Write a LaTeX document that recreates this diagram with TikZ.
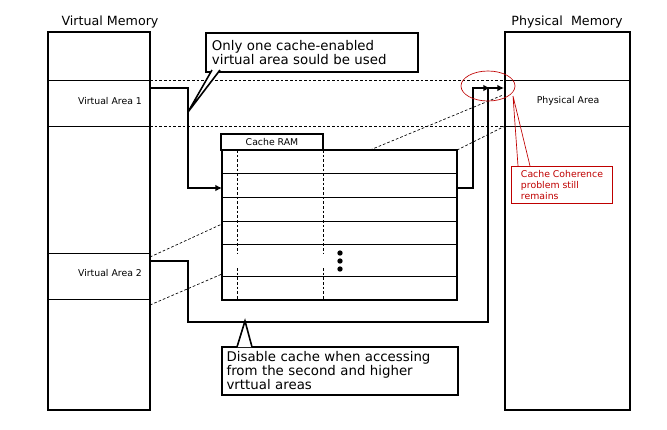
\documentclass[tikz,border=0pt]{standalone}
\usepackage{fontspec}
\setmainfont{DejaVu Sans}
\usetikzlibrary{positioning}
\usetikzlibrary{arrows.meta}
\tikzset{
  mem/.style={draw,line width=1.2pt},
  thin/.style={line width=0.5pt},
  dashline/.style={thin,dash pattern=on 2pt off 1.5pt},
  conn/.style={line width=1.4pt},
  arr/.style={conn,-{Latex[length=5pt,width=5pt]}},
  callout/.style={draw,line width=1.4pt,fill=white,align=left,inner sep=2pt,font=\fontsize{10}{10.5}\selectfont},
  lbl/.style={font=\fontsize{7}{8}\selectfont},
  ttl/.style={font=\fontsize{9.5}{10}\selectfont},
}
\begin{document}
\begin{tikzpicture}[x=0.75pt,y=-0.75pt]
    \useasboundingbox (0,0) rectangle (667,429);
    %% memories
    \node[ttl] (vmt) at (110,22) {Virtual Memory};
    \node[ttl] (pmt) at (567,22) {Physical\ \ Memory};
    \draw[mem] (48,32) coordinate (vm) rectangle (150,410);
    \draw[mem] (505,32) coordinate (pm) rectangle (630,410);
    \foreach \y in {80,126} {
        \draw[thin] (48,\y) -- (150,\y);
        \draw[thin] (505,\y) -- (630,\y);
        \draw[dashline] (150,\y) -- (505,\y);
    }
    \draw[thin] (48,253) -- (150,253);
    \draw[thin] (48,299) -- (150,299);
    \node[lbl] (va1) at (110,101) {Virtual Area 1};
    \node[lbl] (va2) at (110,273) {Virtual Area 2};
    \node[lbl] (pa) at (568,101) {Physical Area};
    %% cache ram
    \node[draw,line width=1.2pt,minimum width=76.5pt,minimum height=12pt,inner sep=0pt,lbl]
        (tab) at (272,142) {Cache RAM};
    \draw[line width=1.2pt] (222,150) coordinate (c0) rectangle (457,300) coordinate (c1);
    \foreach \y in {173,197,221,244,276}
        \draw[thin] (222,\y) -- (457,\y);
    \foreach \x in {237,323} {
        \draw[dashline] (\x,150) -- (\x,253);
        \draw[dashline] (\x,268) -- (\x,300);
    }
    \foreach \y in {253,261,269}
        \fill (340,\y) circle (2pt);
    %% dotted links
    \draw[dashline] (150,257) -- (222,224);
    \draw[dashline] (150,305) -- (222,274);
    \draw[dashline] (370,150) -- (503,95);
    \draw[dashline] (457,150) -- (505,126);
    %% connections
    \coordinate (a1) at (150,88);
    \coordinate (a2) at (222,188);
    \coordinate (b1) at (457,188);
    \coordinate (b2) at (490,88);
    \coordinate (d1) at (150,261);
    \coordinate (d2) at (504,88);
    \draw[arr] (a1) -| (188,188) -- (a2);
    \draw[arr] (b1) -- (473,188) |- (b2);
    \draw[arr] (d1) -- (188,261) |- (488,322) |- (d2);
    %% callouts
    \node[callout,anchor=north west,minimum width=159pt,minimum height=29pt,text width=150pt]
        (q1) at (205,32) {Only one cache-enabled\\virtual area sould be used};
    \coordinate (p1) at (188,112);
    \draw[line width=1.2pt,fill=white] (212,70) -- (p1) -- (220,70);
    \node[callout,anchor=north west,minimum width=177pt,minimum height=36pt,text width=170pt]
        (q2) at (221,346) {Disable cache when accessing\\from the second and higher\\vrttual areas};
    \coordinate (p2) at (245,321);
    \draw[line width=1.2pt,fill=white] (237,347) -- (p2) -- (252,347);
    %% coherence note
    \draw[red!75!black,thin] (488,86) ellipse [x radius=27,y radius=15];
    \node[draw=red!75!black,thin,text=red!75!black,anchor=north west,align=left,inner sep=2pt,
        minimum width=76pt,minimum height=28pt,lbl] (note) at (511,166)
        {Cache Coherence\\problem still\\remains};
    \coordinate (e1) at (513,96);
    \draw[red!75!black,thin] (518,166) -- (e1) -- (530,166);
\end{tikzpicture}
\end{document}
